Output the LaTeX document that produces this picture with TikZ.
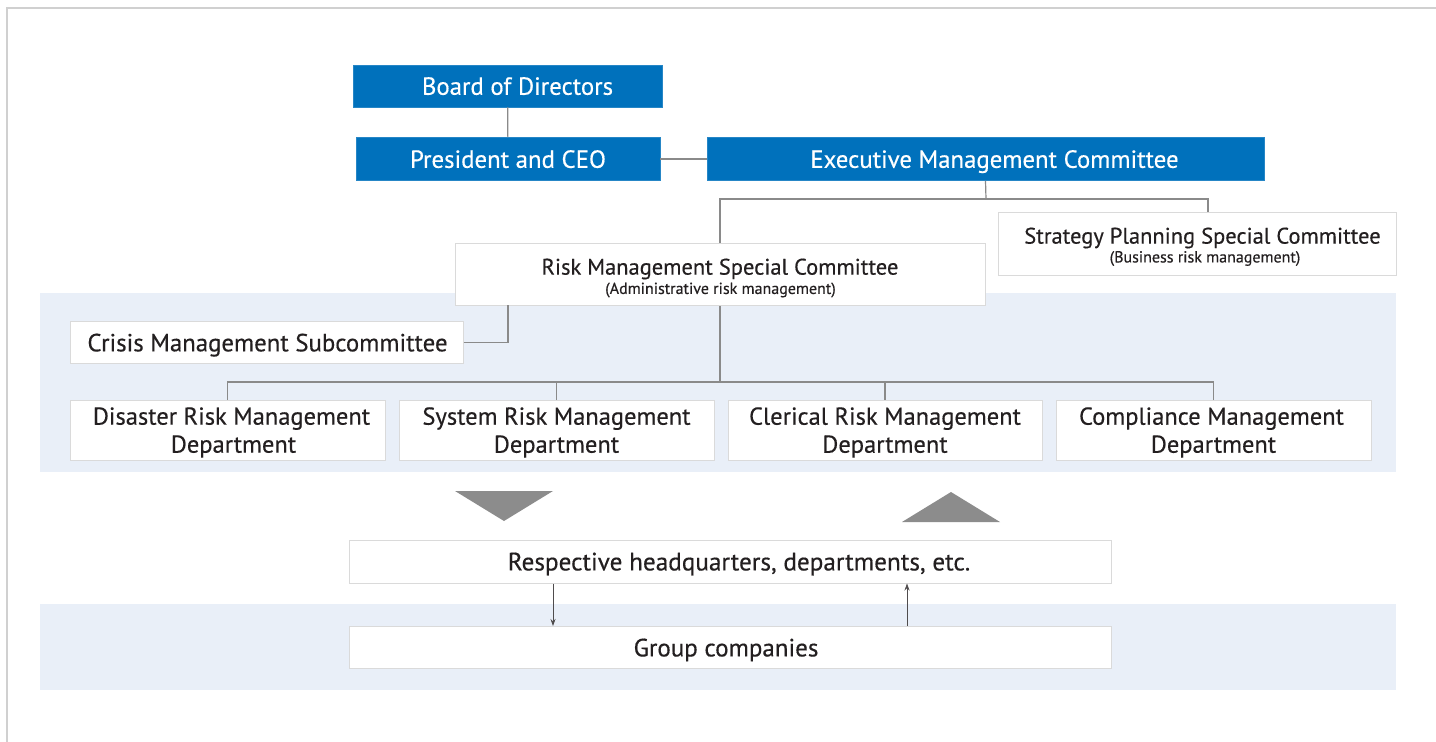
\documentclass[tikz,border=0pt]{standalone}
\usepackage{fontspec}
\setmainfont{PT Sans}[FakeBold=0.35]
\usetikzlibrary{arrows.meta,calc}
\definecolor{corpblue}{HTML}{0071BC}
\definecolor{bandc}{HTML}{E9EFF8}
\definecolor{boxline}{HTML}{DADADA}
\definecolor{linec}{HTML}{8A8A8A}
\definecolor{txt}{HTML}{231F20}
\definecolor{trig}{HTML}{8C8C8C}
\definecolor{framec}{HTML}{D0D0D0}
\newcommand\fsz[2]{\fontsize{#1}{#2}\selectfont}
\newcommand\pad[1]{\hspace*{#1}}
\begin{document}
\begin{tikzpicture}[x=1pt,y=-1pt,
  bluebox/.style={rectangle,fill=corpblue,draw=corpblue!85!white,line width=0.8pt,text=white,inner sep=0pt,text depth=0pt,font=\fsz{24.8}{28}},
  wbox/.style={rectangle,fill=white,draw=boxline,line width=1pt,text=txt,inner sep=0pt,text depth=0pt,align=center},
  conn/.style={draw=linec,line width=1.2pt},
  arr/.style={draw=txt!80,line width=0.8pt,-{Stealth[length=7pt,width=5pt]}}]
\useasboundingbox (0,0) rectangle (1436,742);
\fill[white] (0,0) rectangle (1436,742);
\draw[framec,line width=1.5pt] (7,742) -- (7,8) -- (1436,8);
% bands
\fill[bandc] (40,293) rectangle (1396,472);
\fill[bandc] (40,604) rectangle (1396,690);
% top boxes
\node[bluebox,minimum width=309pt,minimum height=42pt] (board) at (507.5,86) {\pad{20pt}Board of Directors};
\node[bluebox,minimum width=304pt,minimum height=43pt] (pres) at (508,159) {President and CEO};
\node[bluebox,minimum width=557pt,minimum height=43pt] (exec) at (985.5,159) {\pad{18pt}Executive Management Committee};
\draw[conn] (board) -- (pres);
\draw[conn] (pres.east) -- (exec.west);
% committees
\node[wbox,minimum width=398pt,minimum height=63pt] (strat) at (1197,243.5) {};
\node[text=txt,font=\fsz{22.5}{26}] (stratt) at (1202.5,238) {Strategy Planning Special Committee};
\node[text=txt,font=\fsz{16}{18}] (strats) at (1205,258.5) {(Business risk management)};
\coordinate (j1) at (986,199);
\coordinate (j2) at (1208,199);
\node[wbox,minimum width=530pt,minimum height=62pt] (risk) at (720,274.5) {};
\node[text=txt,font=\fsz{22.5}{26}] (riskt) at (720,269) {Risk Management Special Committee};
\node[text=txt,font=\fsz{16}{18}] (risks) at (720.5,290) {(Administrative risk management)};
\draw[conn] (exec.south) -- (j1);
\draw[conn] (risk.north) |- (j1) -- (j2) -- (j2 |- strat.north);
% crisis
\node[wbox,minimum width=393pt,minimum height=42pt,font=\fsz{24.8}{28}] (crisis) at (266.5,342.5) {\pad{2pt}Crisis Management Subcommittee};
\coordinate (j3) at (508,305);
\draw[conn] (crisis.east) -| (j3);
% departments
\coordinate (bus) at (720,382);
\node[wbox,minimum width=315pt,minimum height=60pt,font=\fsz{24.5}{28}] (d1) at (227.5,430) {\pad{8pt}Disaster Risk Management\\\pad{12pt}Department};
\node[wbox,minimum width=315pt,minimum height=60pt,font=\fsz{24.5}{28}] (d2) at (556.5,430) {System Risk Management\\Department};
\node[wbox,minimum width=314pt,minimum height=60pt,font=\fsz{24.5}{28}] (d3) at (885,430) {Clerical Risk Management\\Department};
\node[wbox,minimum width=315pt,minimum height=60pt,font=\fsz{24.5}{28}] (d4) at (1213.5,430) {Compliance Management\hspace*{4pt}\\Department};
\draw[conn] (risk.south) -- (bus);
\draw[conn] (d1.north) |- (bus) -| (d4.north);
\draw[conn] (d2.north) -- (d2.north |- bus);
\draw[conn] (d3.north) -- (d3.north |- bus);
% triangles
\fill[trig] (455,491) -- (553,491) -- (504,521) -- cycle;
\fill[trig] (902,522) -- (1000,522) -- (951,492) -- cycle;
% bottom boxes
\node[wbox,minimum width=762pt,minimum height=43pt,font=\fsz{25.2}{28}] (resp) at (730,561.5) {\pad{18pt}Respective headquarters, departments, etc.};
\node[wbox,minimum width=762pt,minimum height=42pt,font=\fsz{25}{28}] (group) at (730,647.5) {Group companies\hspace*{8pt}};
\draw[arr] ([xshift=-177pt]resp.south) -- ([xshift=-177pt]group.north);
\draw[arr] ([xshift=177pt]group.north) -- ([xshift=177pt]resp.south);
\end{tikzpicture}
\end{document}
